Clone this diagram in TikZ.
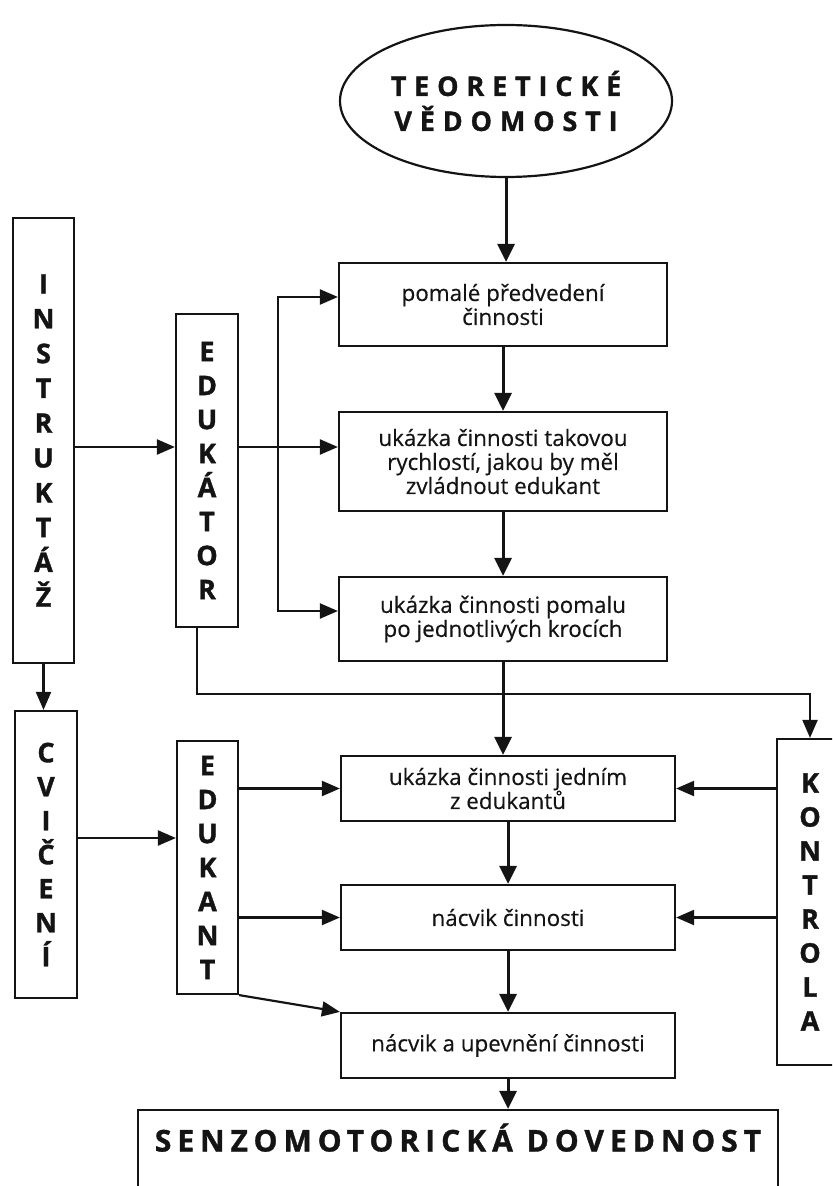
\documentclass[tikz,border=0pt]{standalone}
\usepackage{fontspec}
\setmainfont{Open Sans}[FakeBold=0.4,BoldFeatures={FakeBold=1.2}]
\newfontfamily\spacedfont{Open Sans}[LetterSpace=20,BoldFeatures={FakeBold=1.2}]
\newfontfamily\widefont{Open Sans}[LetterSpace=29,BoldFeatures={FakeBold=1.2}]
\usepackage{tikz}
\usetikzlibrary{arrows.meta,positioning,shapes.geometric}

\begin{document}
\begin{tikzpicture}[x=0.5pt,y=-0.5pt,color=black!92,
  >={Triangle[length=9pt,width=7.5pt]},
  box/.style={draw,line width=1.1pt,align=center,inner sep=2pt,font=\fontsize{11.2}{12}\selectfont},
  upbox/.style={box,minimum width=164pt},
  lowbox/.style={box,minimum width=167pt,minimum height=32.5pt},
  bar/.style={draw,line width=1.1pt,align=center,inner sep=0pt,font=\bfseries\fontsize{13.5}{17}\selectfont},
  link/.style={->,line width=1.1pt},
  flow/.style={->,line width=1.5pt,>={Triangle[length=9pt,width=8.5pt]}}]
\useasboundingbox (0,0) rectangle (832,1186);
\clip (0,0) rectangle (832,1186);

% Top: theory and the teacher's demonstration steps
\node[ellipse,draw,line width=1.1pt,minimum width=166pt,minimum height=76pt,inner sep=0pt,align=center,
  font=\widefont\bfseries\fontsize{13.5}{17.5}\selectfont] (theory) at (506,101) {TEORETICKÉ\\VĚDOMOSTI};
\node[upbox,minimum height=41.5pt] (b1) at (503,304.5) {pomalé předvedení\\činnosti};
\node[upbox,minimum height=49.5pt] (b2) at (503,461.5) {ukázka činnosti takovou\\rychlostí, jakou by měl\\zvládnout edukant};
\node[upbox,minimum height=42pt] (b3) at (503,619) {ukázka činnosti pomalu\\po jednotlivých krocích};

% Bottom: the learner's practice steps
\node[lowbox] (b4) at (508,788.5) {ukázka činnosti jedním\\z edukantů};
\node[lowbox] (b5) at (508,917.5) {nácvik činnosti};
\node[lowbox] (b6) at (508,1045.5) {nácvik a upevnění činnosti};
\node[draw,line width=1.1pt,minimum width=320pt,minimum height=40pt,text height=10.5pt,text depth=9pt,
  font=\spacedfont\bfseries\fontsize{15}{16}\selectfont] (skill) at (458,1150) {SENZOMOTORICKÁ DOVEDNOST};

% Vertical letter bars
\node[bar,minimum width=30.5pt,minimum height=222.5pt,font=\bfseries\fontsize{13.5}{17.4}\selectfont] (instr) at (43.5,440.5)
  {I\\N\\S\\T\\R\\U\\K\\T\\Á\\Ž};
\node[bar,minimum width=31pt,minimum height=156.5pt] (edukator) at (207,470.5) {E\\D\\U\\K\\Á\\T\\O\\R};
\node[bar,minimum width=31pt,minimum height=143.5pt] (cviceni) at (46,854.5) {C\\V\\I\\Č\\E\\N\\Í};
\node[bar,minimum width=30.5pt,minimum height=126.5pt] (edukant) at (207.5,867.5) {E\\D\\U\\K\\A\\N\\T};
\node[bar,minimum width=33pt,minimum height=163pt] (kontrola) at (810,902) {K\\O\\N\\T\\R\\O\\L\\A};

\coordinate (forktop) at (278,297);
\coordinate (forkbot) at (278,611);
\coordinate (midrow) at (0,447);
\coordinate (lowrow) at (0,838);
\coordinate (joinrow) at (0,694);

% Connectors
\foreach \a/\b in {theory/b1,b1/b2,b2/b3,b3/b4,b4/b5,b5/b6,b6/skill}
  \draw[flow] (\a.south) -- (\a.south |- \b.north);
\draw[link] (instr.east |- midrow) -- (edukator.west |- midrow);
\draw[link] (edukator.east |- midrow) -- (b2.west |- midrow);
\draw[<->,line width=1.1pt] (b1.west |- forktop) -- (forktop) -- (forkbot) -- (b3.west |- forkbot);
\draw[link] ([xshift=-5pt]edukator.south) |- (kontrola.north |- joinrow) -- (kontrola.north);
\draw[link] (instr.south) -- (instr.south |- cviceni.north);
\draw[link] (cviceni.east |- lowrow) -- (edukant.west |- lowrow);
\draw[link] (edukant.east |- b4) -- (b4.west);
\draw[link] (edukant.east |- b5) -- (b5.west);
\draw[link] (edukant.south east) -- (b6.north west);
\draw[link] (kontrola.west |- b4) -- (b4.east);
\draw[link] (kontrola.west |- b5) -- (b5.east);
\end{tikzpicture}
\end{document}
